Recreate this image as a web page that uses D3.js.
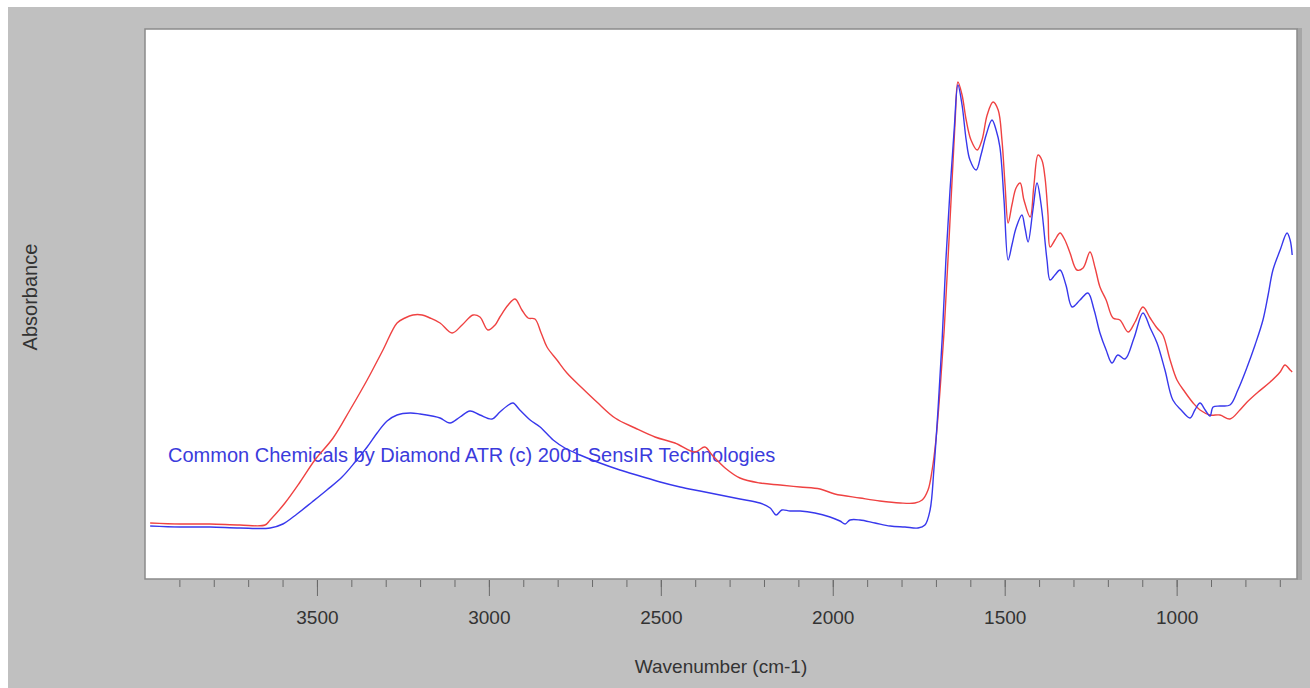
<!DOCTYPE html>
<html>
<head>
<meta charset="utf-8">
<script src="https://cdn.jsdelivr.net/npm/d3@7"></script>
<style>
  body { margin: 0; background: white; }
  svg { display: block; }
</style>
</head>
<body>
<div id="plot"></div>
<script>
// [wavenumber cm-1, absorbance]
let redSpectrum = [
  [3985,0.112],[3898,0.110],[3811,0.110],[3724,0.108],[3651,0.108],[3636,0.118],[3593,0.152],[3549,0.194],
  [3506,0.238],[3453,0.282],[3404,0.338],[3354,0.398],[3308,0.458],[3267,0.512],[3244,0.522],[3221,0.528],
  [3194,0.528],[3171,0.522],[3142,0.512],[3107,0.492],[3078,0.508],[3046,0.528],[3026,0.524],[3003,0.498],
  [2982,0.508],[2968,0.524],[2944,0.548],[2924,0.560],[2904,0.538],[2886,0.522],[2866,0.520],[2848,0.492],
  [2831,0.464],[2802,0.438],[2773,0.412],[2729,0.382],[2686,0.354],[2633,0.322],[2575,0.302],[2517,0.284],
  [2459,0.272],[2401,0.254],[2372,0.264],[2351,0.248],[2313,0.222],[2270,0.202],[2212,0.192],[2153,0.188],
  [2095,0.184],[2037,0.180],[1994,0.170],[1921,0.162],[1863,0.156],[1804,0.152],[1761,0.152],[1740,0.158],
  [1723,0.178],[1711,0.218],[1700,0.278],[1688,0.378],[1676,0.498],[1665,0.638],[1653,0.798],[1644,0.918],
  [1636,0.994],[1624,0.968],[1612,0.918],[1598,0.878],[1580,0.858],[1566,0.878],[1551,0.928],[1534,0.954],
  [1519,0.938],[1508,0.878],[1499,0.788],[1490,0.712],[1479,0.748],[1467,0.782],[1455,0.792],[1444,0.758],
  [1426,0.724],[1415,0.788],[1403,0.848],[1392,0.838],[1383,0.804],[1374,0.728],[1368,0.664],[1354,0.678],
  [1339,0.692],[1325,0.678],[1310,0.652],[1290,0.618],[1272,0.622],[1252,0.654],[1237,0.622],[1223,0.584],
  [1205,0.558],[1185,0.522],[1165,0.518],[1141,0.494],[1121,0.514],[1098,0.544],[1077,0.522],[1057,0.502],
  [1040,0.488],[1019,0.438],[999,0.398],[976,0.374],[952,0.352],[932,0.338],[903,0.328],[874,0.328],
  [845,0.320],[816,0.338],[795,0.354],[763,0.374],[728,0.394],[699,0.414],[685,0.428],[670,0.418],[664,0.414]
];

let blueSpectrum = [
  [3985,0.106],[3898,0.104],[3811,0.104],[3724,0.102],[3636,0.102],[3599,0.110],[3558,0.130],[3514,0.154],
  [3471,0.178],[3427,0.204],[3389,0.234],[3354,0.264],[3325,0.292],[3296,0.316],[3267,0.328],[3229,0.332],
  [3200,0.330],[3165,0.326],[3142,0.322],[3113,0.312],[3084,0.324],[3055,0.336],[3026,0.328],[2991,0.320],
  [2968,0.334],[2947,0.346],[2930,0.352],[2910,0.338],[2880,0.318],[2851,0.304],[2813,0.278],[2779,0.262],
  [2735,0.248],[2677,0.232],[2619,0.218],[2561,0.206],[2502,0.194],[2444,0.184],[2386,0.176],[2328,0.168],
  [2270,0.160],[2212,0.152],[2182,0.142],[2165,0.128],[2148,0.138],[2124,0.136],[2095,0.136],[2052,0.132],
  [2008,0.124],[1979,0.116],[1964,0.110],[1950,0.118],[1921,0.118],[1877,0.112],[1833,0.106],[1790,0.104],
  [1752,0.102],[1732,0.108],[1717,0.138],[1706,0.218],[1694,0.338],[1682,0.478],[1671,0.638],[1659,0.778],
  [1647,0.898],[1636,0.988],[1624,0.948],[1612,0.878],[1601,0.838],[1583,0.818],[1569,0.848],[1554,0.888],
  [1537,0.918],[1525,0.898],[1514,0.864],[1502,0.758],[1490,0.638],[1479,0.668],[1467,0.702],[1450,0.728],
  [1441,0.702],[1432,0.674],[1418,0.738],[1406,0.792],[1394,0.748],[1377,0.638],[1368,0.598],[1354,0.608],
  [1339,0.618],[1322,0.588],[1304,0.544],[1281,0.558],[1258,0.572],[1240,0.538],[1223,0.492],[1205,0.458],
  [1188,0.432],[1171,0.448],[1150,0.440],[1124,0.482],[1098,0.532],[1077,0.502],[1057,0.472],[1034,0.418],
  [1011,0.358],[987,0.338],[961,0.322],[947,0.338],[932,0.352],[917,0.338],[903,0.326],[894,0.344],
  [874,0.346],[845,0.348],[822,0.378],[795,0.424],[772,0.468],[749,0.518],[734,0.568],[720,0.618],
  [699,0.658],[679,0.692],[670,0.678],[664,0.648]
];

let majorTicks = [3500, 3000, 2500, 2000, 1500, 1000];
let minorTicks = d3.range(700, 4000, 100);
let watermark = 'Common Chemicals by Diamond ATR (c) 2001 SensIR Technologies';

let width = 1310, height = 688;
let plotL = 145, plotR = 1297, plotT = 29, plotB = 579;

let svg = d3.select('#plot').append('svg').attr('width', width).attr('height', height)
  .style('font-family', '"Liberation Sans", Arial, sans-serif');

// grey window background with the thin white strip on top and left
svg.append('rect').attr('width', width).attr('height', height).attr('fill', 'white');
svg.append('rect').attr('x', 8).attr('y', 7).attr('width', width - 8).attr('height', height - 7).attr('fill', '#c0c0c0');

let x = d3.scaleLinear().domain([4000, 650]).range([plotL, plotR]);
let y = d3.scaleLinear().domain([0, 1.1]).range([plotB, plotT]);

// plot frame
svg.append('rect').attr('x', plotR).attr('y', plotT - 1).attr('width', 5).attr('height', plotB - plotT + 2).attr('fill', '#a6a6a6');
svg.append('rect').attr('x', plotL).attr('y', plotT).attr('width', plotR - plotL).attr('height', plotB - plotT)
  .attr('fill', 'white').attr('stroke', '#8a8a8a').attr('stroke-width', 1.5);

// axes
let minor = svg.append('g').attr('transform', `translate(0,${plotB + 1})`)
  .call(d3.axisBottom(x).tickValues(minorTicks).tickSize(7).tickFormat(''));
let major = svg.append('g').attr('transform', `translate(0,${plotB + 1})`)
  .call(d3.axisBottom(x).tickValues(majorTicks).tickSize(16).tickPadding(15).tickFormat(d3.format('d')));
[minor, major].forEach(a => {
  a.select('.domain').remove();
  a.selectAll('line').attr('stroke', '#6a6a6a');
});
major.selectAll('text').attr('fill', '#333').style('font-size', '19px');

svg.append('text').attr('x', (plotL + plotR) / 2).attr('y', 673).attr('text-anchor', 'middle')
  .attr('fill', '#333').style('font-size', '19px').text('Wavenumber (cm-1)');

svg.append('text').attr('transform', 'translate(37,297) rotate(-90)').attr('text-anchor', 'middle')
  .attr('fill', '#333').style('font-size', '20px').text('Absorbance');

svg.append('text').attr('x', 168).attr('y', 462).attr('fill', '#3b3bdc').style('font-size', '20px').text(watermark);

let line = d3.line().x(d => x(d[0])).y(d => y(d[1])).curve(d3.curveCatmullRom.alpha(0.5));

svg.append('path').datum(redSpectrum).attr('d', line).attr('fill', 'none')
  .attr('stroke', '#ef4242').attr('stroke-width', 1.4).attr('stroke-linejoin', 'round');
svg.append('path').datum(blueSpectrum).attr('d', line).attr('fill', 'none')
  .attr('stroke', '#3838ec').attr('stroke-width', 1.4).attr('stroke-linejoin', 'round');
</script>
</body>
</html>
